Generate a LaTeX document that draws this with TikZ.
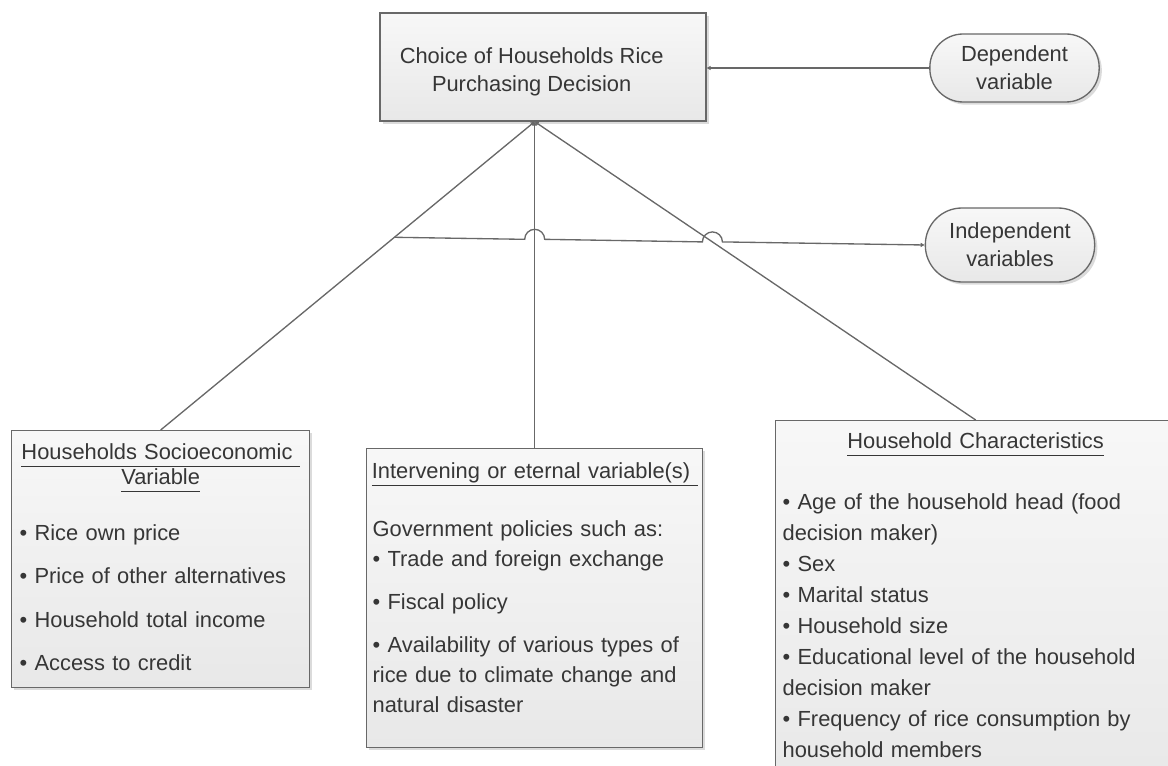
\documentclass[tikz,border=0pt]{standalone}
\usepackage{fontspec}
\setmainfont{Liberation Sans}
\usepackage{tikz}
\usetikzlibrary{shadows,calc,intersections,arrows.meta}

\definecolor{linegray}{HTML}{686868}
\definecolor{inkgray}{HTML}{363636}
\newcommand{\boxfont}{\fontsize{16.4pt}{21pt}\selectfont}
\newcommand{\hdr}[1]{\underline{#1\vphantom{(}}}

\begin{document}
\begin{tikzpicture}[x=0.75pt,y=-0.75pt,->,>={Triangle[length=3pt,width=3pt]},color=linegray,line width=1pt]
   \useasboundingbox (0,0) rectangle (1168,766);
   \tikzstyle{panel}=[draw=linegray, line width=1pt, top color=white!97!black, bottom color=white!91!black, drop shadow={shadow xshift=2pt, shadow yshift=-2pt, fill=black, opacity=0.14}, inner sep=0pt, text=inkgray]
   \tikzstyle{tag}=[panel, align=center, font=\boxfont, minimum width=127pt]
   \tikzstyle{list}=[anchor=north west, inner sep=0pt, align=left, text=inkgray]
   \node[panel, align=center, font=\boxfont, minimum width=244.5pt, minimum height=81pt] (top) at (543,67) {\rule{0pt}{19.5pt}Choice of Households Rice\kern17pt\\Purchasing Decision\kern17pt};
   \node[tag, minimum height=51pt, rounded corners=25pt] (dep) at (1014.5,68) {Dependent\\variable};
   \node[tag, minimum height=55.5pt, rounded corners=27.5pt] (indep) at (1010,245) {Independent\\variables};
   \node[panel, anchor=north west, minimum width=223.5pt, minimum height=192.75pt] (lbox) at (11,430) {};
   \node[panel, anchor=north west, minimum width=252pt, minimum height=224.25pt] (mbox) at (366,448) {};
   \node[panel, anchor=north west, minimum width=300pt, minimum height=277.5pt] (rbox) at (775,420) {};
   \node[list, text width=211.5pt, font=\fontsize{16.4pt}{18.75pt}\selectfont] (ltext) at (19,443) {%
      \makebox[\linewidth]{\hdr{Households Socioeconomic~}}\\
      \makebox[\linewidth]{\hdr{Variable}}\\[23.25pt]
      \textbullet\ Rice own price\\[13.75pt]
      \textbullet\ Price of other alternatives\\[13.75pt]
      \textbullet\ Household total income\\[13.75pt]
      \textbullet\ Access to credit};
   \node[list, text width=243pt, font=\fontsize{16.4pt}{22.5pt}\selectfont] (mtext) at (372,462) {%
      \makebox[\linewidth]{\hdr{Intervening or eternal variable(s)~}}\\[21pt]
      Government policies such as:\\
      \textbullet\ Trade and foreign exchange\\[9.75pt]
      \textbullet\ Fiscal policy\\[9.75pt]
      \textbullet\ Availability of various types of\\
      rice due to climate change and\\
      natural disaster};
   \node[list, text width=289.5pt, font=\fontsize{16.4pt}{23.25pt}\selectfont] (rtext) at (782,432) {%
      \makebox[\linewidth]{\hdr{Household Characteristics}}\\[22.5pt]
      \textbullet\ Age of the household head (food\\
      decision maker)\\
      \textbullet\ Sex\\
      \textbullet\ Marital status\\
      \textbullet\ Household size\\
      \textbullet\ Educational level of the household\\
      decision maker\\
      \textbullet\ Frequency of rice consumption by\\
      household members};
   \foreach \side in {lbox,mbox,rbox}
      \draw[name path global=\side-line] (\side.north) -- (top.south -| mbox.north);
   \draw (dep.west) -- (dep.west -| top.east);
   \coordinate (tap) at ($(lbox.north)!0.625!(top.south -| mbox.north)$);
   \path[name path=hop] (tap) -- (indep.west);
   \path[name intersections={of=mbox-line and hop, by=c1}];
   \path[name intersections={of=rbox-line and hop, by=c2}];
   \draw (tap) -- ($(c1)+(-10,0)$) arc[start angle=180, end angle=360, radius=10]
      -- ($(c2)+(-10,0)$) arc[start angle=180, end angle=360, radius=10] -- (indep.west);
\end{tikzpicture}
\end{document}
